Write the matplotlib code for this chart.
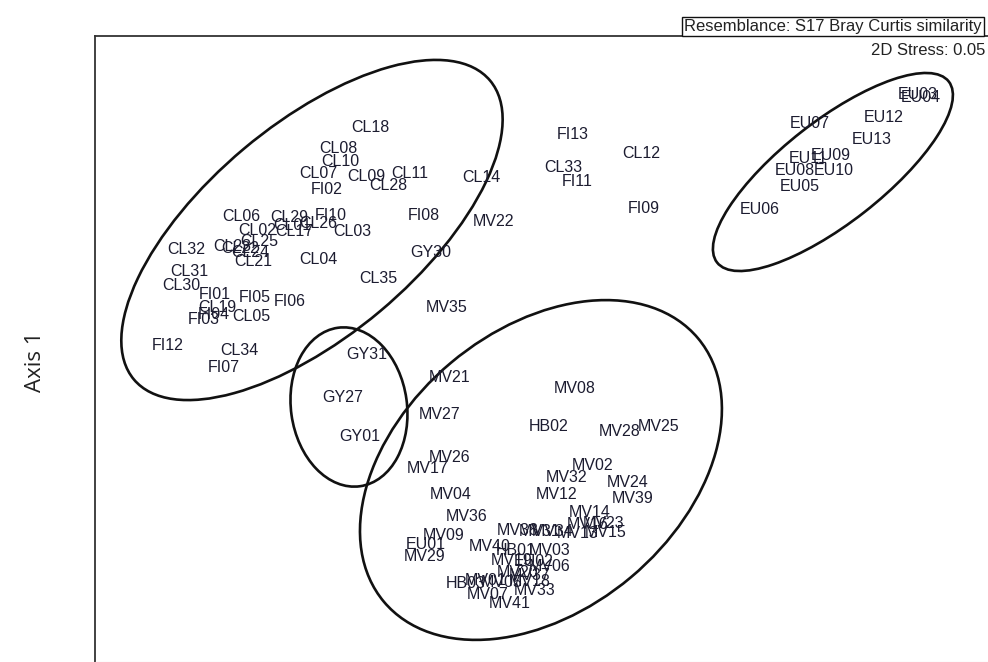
import matplotlib
matplotlib.use("Agg")
import matplotlib.pyplot as plt
from matplotlib.patches import Ellipse

# sample labels and their ordination positions (plot units, y grows downward)
labels = [
    "CL18", "CL08", "CL10", "CL07", "CL09", "CL11", "CL28", "FI02", "CL14",
    "CL06", "CL29", "FI10", "CL01", "CL26", "CL02", "CL17", "CL03", "CL25",
    "CL23", "CL22", "CL24", "CL21", "CL04", "CL32", "CL31", "CL30", "FI01",
    "FI05", "FI06", "CL19", "FI04", "FI03", "CL05", "FI12", "CL34", "FI07",
    "FI08", "CL35", "GY30", "MV22", "MV35",
    "FI13", "CL12", "CL33", "FI11", "FI09",
    "EU03", "EU04", "EU12", "EU07", "EU13", "EU11", "EU09", "EU08", "EU10",
    "EU05", "EU06",
    "GY31", "GY27", "GY01",
    "MV21", "MV27", "MV26", "MV17", "MV04", "MV36", "MV09", "EU01", "MV29",
    "MV08", "HB02", "MV28", "MV25", "MV02", "MV32", "MV24", "MV12", "MV39",
    "MV14", "MV16", "MV23", "MV13", "MV15", "MV38", "MV31", "MV34", "MV40",
    "HB01", "MV03", "MV19", "EU02", "MV06", "MV20", "MV37", "MV18", "HB03",
    "MV01", "MV05", "MV33", "MV07", "MV41",
]
axis2 = [
    370, 338, 340, 318, 366, 410, 388, 327, 481,
    241, 289, 331, 292, 318, 257, 294, 352, 259,
    232, 240, 250, 253, 318, 186, 189, 181, 215,
    255, 290, 217, 214, 204, 251, 168, 239, 224,
    424, 378, 431, 494, 447,
    573, 641, 563, 577, 644,
    918, 921, 884, 810, 872, 808, 831, 795, 834,
    800, 760,
    367, 343, 360,
    450, 440, 450, 428, 451, 467, 444, 426, 425,
    575, 549, 620, 659, 593, 567, 628, 557, 633,
    590, 588, 604, 578, 606, 518, 540, 553, 490,
    516, 550, 512, 534, 550, 518, 530, 530, 466,
    486, 502, 535, 488, 510,
]
axis1 = [
    127, 148, 161, 173, 176, 173, 185, 189, 177,
    216, 217, 215, 225, 223, 230, 231, 231, 241,
    246, 248, 252, 261, 259, 249, 271, 285, 294,
    297, 301, 307, 314, 319, 316, 345, 350, 367,
    215, 278, 252, 221, 307,
    134, 153, 167, 181, 208,
    94, 97, 117, 123, 139, 158, 155, 170, 170,
    186, 209,
    354, 397, 436,
    377, 414, 457, 468, 494, 516, 535, 544, 556,
    388, 426, 431, 426, 465, 477, 482, 494, 498,
    512, 524, 523, 533, 532, 530, 531, 531, 546,
    550, 550, 560, 561, 566, 572, 575, 581, 583,
    580, 582, 590, 594, 603,
]

# group ellipses: centre x, centre y, width, height, angle
ell_x = [312, 833, 349, 541]
ell_y = [230, 172, 407, 470]
ell_w = [465, 294, 116, 410]
ell_h = [212, 102, 160, 280]
ell_angle = [-40, -38, -8, -40]

fig = plt.figure(figsize=(9.88, 6.62), dpi=100)
ax = fig.add_axes([95 / 988, 0.0, 1 - 95 / 988 + 0.01, (662 - 36) / 662])
ax.set_xlim(95, 998)
ax.set_ylim(662, 36)

for lab, x, y in zip(labels, axis2, axis1):
    ax.text(x, y, lab, ha="center", va="center", fontsize=11.5,
            family="Liberation Sans", color="#1c1c30")

for cx, cy, w, h, a in zip(ell_x, ell_y, ell_w, ell_h, ell_angle):
    ax.add_patch(Ellipse((cx, cy), w, h, angle=a, fill=False,
                         lw=1.9, ec="#111111"))

ax.set_xticks([])
ax.set_yticks([])
ax.spines["right"].set_visible(False)
ax.spines["bottom"].set_color("#cccccc")
for s in ["left", "top"]:
    ax.spines[s].set_linewidth(1.3)
    ax.spines[s].set_color("#333333")

ax.text(985, 50, "2D Stress: 0.05", ha="right", va="center", fontsize=12,
        family="Liberation Sans", color="#222222")

fig.text(982 / 988, 1 - 26 / 662, "Resemblance: S17 Bray Curtis similarity",
         ha="right", va="center", fontsize=12, family="Liberation Sans",
         color="#222222",
         bbox=dict(boxstyle="square,pad=0.12", fc="white", ec="#111111", lw=1))

fig.text(35 / 988, 1 - 362 / 662, "Axis 1", rotation=90, ha="center",
         va="center", fontsize=16, family="Open Sans", color="#222222")

fig.savefig("out.png", dpi=100)
